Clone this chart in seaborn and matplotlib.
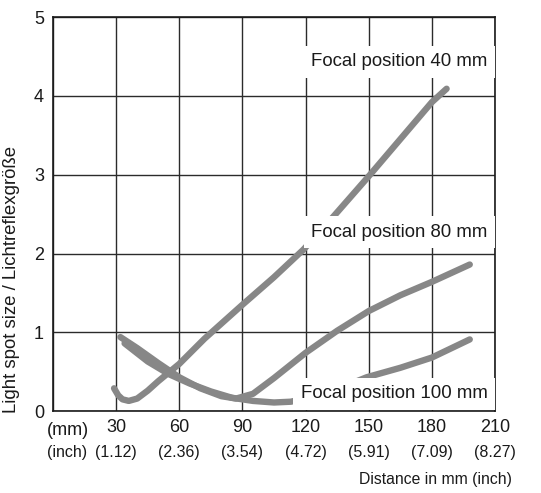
"""
Light spot size vs. distance for three focal positions
"""

import pandas as pd
import numpy as np
import matplotlib
matplotlib.use('Agg')
import matplotlib.pyplot as plt
import seaborn as sns

# values
x_f40 = [29, 31, 33, 36, 40, 45, 50, 60, 72, 90, 105, 119, 130, 150, 165, 180, 187]
y_f40 = [0.29, 0.20, 0.15, 0.13, 0.16, 0.26, 0.38, 0.60, 0.92, 1.35, 1.70, 2.05, 2.37, 2.98, 3.45, 3.92, 4.09]

x_f80 = [32, 40, 50, 60, 70, 80, 87, 95, 105, 120, 135, 150, 165, 180, 198]
y_f80 = [0.94, 0.80, 0.61, 0.43, 0.29, 0.19, 0.16, 0.22, 0.42, 0.74, 1.02, 1.27, 1.47, 1.64, 1.86]

x_f100 = [34, 45, 55, 65, 75, 85, 95, 105, 113, 125, 137, 149, 165, 180, 198]
y_f100 = [0.86, 0.63, 0.47, 0.35, 0.25, 0.17, 0.13, 0.11, 0.12, 0.19, 0.30, 0.43, 0.55, 0.68, 0.91]

series_names = ['Focal position 40 mm', 'Focal position 80 mm', 'Focal position 100 mm']
label_y = [4.43, 2.27, 0.22]

mm_ticks = [30, 60, 90, 120, 150, 180, 210]
inch_labels = ['(1.12)', '(2.36)', '(3.54)', '(4.72)', '(5.91)', '(7.09)', '(8.27)']
y_ticks = [0, 1, 2, 3, 4, 5]

df = pd.concat([
    pd.DataFrame({'x': x_f40, 'y': y_f40, 'series': series_names[0]}),
    pd.DataFrame({'x': x_f80, 'y': y_f80, 'series': series_names[1]}),
    pd.DataFrame({'x': x_f100, 'y': y_f100, 'series': series_names[2]}),
])

sns.set_style('white')
plt.rcParams['font.family'] = ['Liberation Sans', 'DejaVu Sans']

fig = plt.figure(figsize=(5.41, 4.93), dpi=100)
ax = fig.add_axes([0.098, 0.166, 0.817, 0.7995])

line_color = '#878787'
sns.lineplot(data=df, x='x', y='y', hue='series', units='series', estimator=None,
             sort=False, palette=[line_color] * 3, linewidth=4.6, legend=False,
             ax=ax, zorder=3)
for ln in ax.get_lines():
    ln.set_solid_capstyle('round')
    ln.set_solid_joinstyle('round')

ax.set_xlim(0, 210)
ax.set_ylim(0, 5)
ax.set_xticks([0] + mm_ticks)
ax.set_xticklabels([''] + [str(t) for t in mm_ticks])
ax.set_yticks(y_ticks)
ax.grid(True, color='#2b2b2b', linewidth=1.0)
ax.set_axisbelow(True)
for s in ax.spines.values():
    s.set_color('#1a1a1a')
    s.set_linewidth(1.2)
ax.tick_params(length=0, labelsize=13, colors='#1a1a1a')
ax.tick_params(axis='x', pad=5.5)
ax.tick_params(axis='y', pad=6.5)
ax.set_xlabel('')
ax.set_ylabel('')

# series labels with white boxes
for name, ly in zip(series_names, label_y):
    ax.text(206.5, ly, name, ha='right', va='center', fontsize=13.4, color='#1a1a1a',
            zorder=5, bbox=dict(facecolor='white', edgecolor='none', pad=0.4 * 13.4))

# second axis line: unit labels and inch values
trans = ax.get_xaxis_transform()
ax.text(-3, -0.048, '(mm)', transform=trans, ha='left', va='center',
        fontsize=13, color='#1a1a1a', clip_on=False)
ax.text(-3, -0.104, '(inch)', transform=trans, ha='left', va='center',
        fontsize=11.5, color='#1a1a1a', clip_on=False)
for t, lab in zip(mm_ticks, inch_labels):
    ax.text(t, -0.104, lab, transform=trans, ha='center', va='center',
            fontsize=11.5, color='#1a1a1a', clip_on=False)

fig.text(0.946, 0.0264, 'Distance in mm (inch)', ha='right', va='center',
         fontsize=11.3, color='#1a1a1a')
fig.text(12 / 541, 1 - 279 / 493, 'Light spot size / Lichtreflexgröße', rotation=90,
         ha='center', va='center', fontsize=13.4, color='#1a1a1a')

fig.savefig('out.png', dpi=100)
plt.close(fig)
